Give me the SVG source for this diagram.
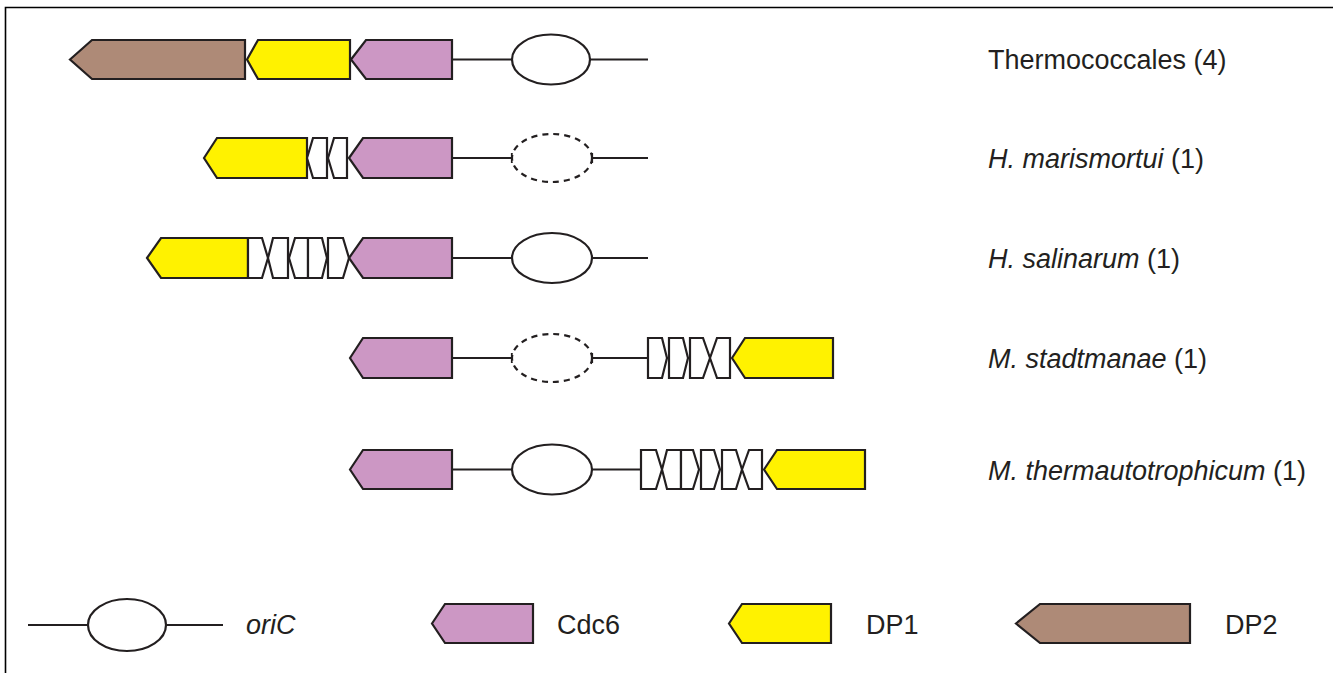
<svg xmlns="http://www.w3.org/2000/svg" width="1333" height="673" viewBox="0 0 1333 673">
<style>
.g{stroke:#231F20;stroke-width:2.2;stroke-linejoin:miter}
.dp2{fill:#AE8A77}
.dp1{fill:#FFF200}
.cdc{fill:#CC97C4}
.w{fill:#FFFFFF}
.ori{fill:#FFFFFF;stroke:#231F20;stroke-width:2.2}
.dash{fill:#FFFFFF;stroke:#231F20;stroke-width:2.2;stroke-dasharray:6 5}
.ln{stroke:#231F20;stroke-width:2.2;fill:none}
.t{font-family:"Liberation Sans",Arial,sans-serif;font-size:27px;fill:#231F20}
.i{font-style:italic}
</style>
<rect width="1333" height="673" fill="#FFFFFF"/>
<polyline points="5.5,673 5.5,7.5 1333,7.5" fill="none" stroke="#000" stroke-width="1.6"/>

<g id="connectors">
<line class="ln" x1="452" y1="59.5" x2="512" y2="59.5"/>
<line class="ln" x1="590" y1="59.5" x2="648" y2="59.5"/>
<line class="ln" x1="452" y1="158" x2="512" y2="158"/>
<line class="ln" x1="592" y1="158" x2="648" y2="158"/>
<line class="ln" x1="512" y1="153" x2="512" y2="163"/>
<line class="ln" x1="592" y1="153" x2="592" y2="163"/>
<line class="ln" x1="452" y1="258" x2="512" y2="258"/>
<line class="ln" x1="592" y1="258" x2="648" y2="258"/>
<line class="ln" x1="452" y1="358" x2="512" y2="358"/>
<line class="ln" x1="592" y1="358" x2="648" y2="358"/>
<line class="ln" x1="512" y1="353" x2="512" y2="363"/>
<line class="ln" x1="592" y1="353" x2="592" y2="363"/>
<line class="ln" x1="452" y1="469.5" x2="512" y2="469.5"/>
<line class="ln" x1="592" y1="469.5" x2="641" y2="469.5"/>
<line class="ln" x1="28" y1="625" x2="88" y2="625"/>
<line class="ln" x1="166" y1="625" x2="223" y2="625"/>
</g>

<g id="row1">
<polygon class="g dp2" points="70,59.5 92,40 245,40 245,79 92,79"/>
<polygon class="g dp1" points="247,59.5 258,40 350,40 350,79 258,79"/>
<polygon class="g cdc" points="351,59.5 366,40 452,40 452,79 366,79"/>
<ellipse class="ori" cx="551" cy="59.5" rx="39" ry="25"/>
<text class="t" x="988" y="69">Thermococcales (4)</text>
</g>

<g id="row2">
<polygon class="g dp1" points="204,158 217,138 307,138 307,178 217,178"/>
<polygon class="g w" points="307,158 313,138 327,138 327,178 313,178"/>
<polygon class="g w" points="328,158 334,138 347,138 347,178 334,178"/>
<polygon class="g cdc" points="349,158 363,138 452,138 452,178 363,178"/>
<ellipse class="dash" cx="552" cy="158" rx="40" ry="24"/>
<text class="t" x="988" y="168"><tspan class="i">H. marismortui</tspan> (1)</text>
</g>

<g id="row3">
<polygon class="g dp1" points="147,258 161,238 248,238 248,278 161,278"/>
<polygon class="g w" points="248,238 262,238 268,258 262,278 248,278"/>
<polygon class="g w" points="268,258 273,238 288,238 288,278 273,278"/>
<polygon class="g w" points="289,258 295,238 308,238 308,278 295,278"/>
<polygon class="g w" points="308,238 322,238 327,258 322,278 308,278"/>
<polygon class="g w" points="328,238 343,238 349,258 343,278 328,278"/>
<polygon class="g cdc" points="349,258 363,238 452,238 452,278 363,278"/>
<ellipse class="ori" cx="552" cy="258" rx="40" ry="25"/>
<text class="t" x="988" y="268"><tspan class="i">H. salinarum</tspan> (1)</text>
</g>

<g id="row4">
<polygon class="g cdc" points="350,358 363,338 452,338 452,378 363,378"/>
<ellipse class="dash" cx="552" cy="358" rx="40" ry="24"/>
<polygon class="g w" points="648,338 662,338 667,358 662,378 648,378"/>
<polygon class="g w" points="669,338 683,338 688,358 683,378 669,378"/>
<polygon class="g w" points="690,338 703,338 710,358 703,378 690,378"/>
<polygon class="g w" points="710,358 717,338 730,338 730,378 717,378"/>
<polygon class="g dp1" points="732,358 745,338 833,338 833,378 745,378"/>
<text class="t" x="988" y="368"><tspan class="i">M. stadtmanae</tspan> (1)</text>
</g>

<g id="row5">
<polygon class="g cdc" points="350,469.5 363,450 452,450 452,489 363,489"/>
<ellipse class="ori" cx="552" cy="469.5" rx="40" ry="25"/>
<polygon class="g w" points="641,450 656,450 662,469.5 656,489 641,489"/>
<polygon class="g w" points="662,469.5 667,450 681,450 681,489 667,489"/>
<polygon class="g w" points="681,450 693,450 699,469.5 693,489 681,489"/>
<polygon class="g w" points="701,450 714,450 720,469.5 714,489 701,489"/>
<polygon class="g w" points="722,450 736,450 742,469.5 736,489 722,489"/>
<polygon class="g w" points="742,469.5 749,450 762,450 762,489 749,489"/>
<polygon class="g dp1" points="764,469.5 777,450 865,450 865,489 777,489"/>
<text class="t" x="988" y="480"><tspan class="i">M. thermautotrophicum</tspan> (1)</text>
</g>

<g id="legend-oric">
<ellipse class="ori" cx="127" cy="625" rx="39" ry="26"/>
<text class="t i" x="246" y="634">oriC</text>
</g>
<g id="legend-cdc6">
<polygon class="g cdc" points="432,623.5 445,604 533,604 533,643 445,643"/>
<text class="t" x="557" y="634">Cdc6</text>
</g>
<g id="legend-dp1">
<polygon class="g dp1" points="729,623.5 742,604 831,604 831,643 742,643"/>
<text class="t" x="866" y="634">DP1</text>
</g>
<g id="legend-dp2">
<polygon class="g dp2" points="1016,623.5 1040,604 1190,604 1190,643 1040,643"/>
<text class="t" x="1225" y="634">DP2</text>
</g>
</svg>
